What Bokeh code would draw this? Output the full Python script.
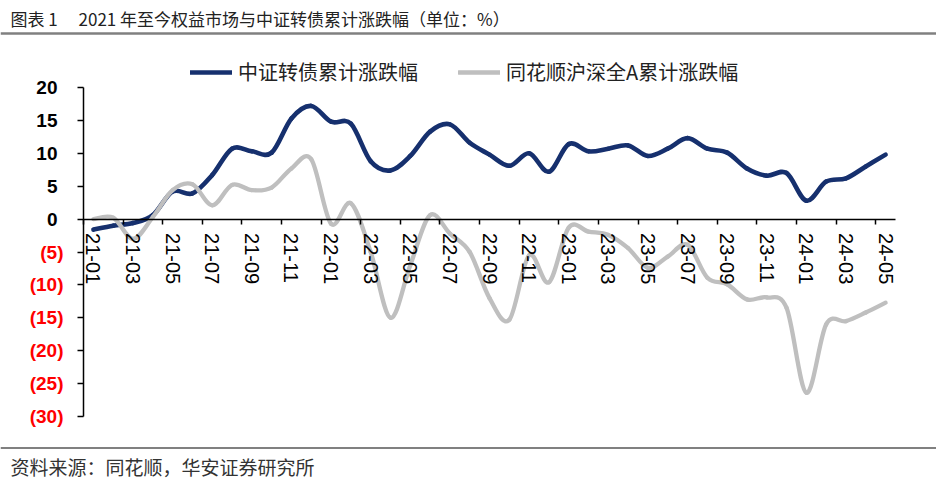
import math
from bokeh.plotting import figure
from bokeh.models import (Range1d, FixedTicker, LinearAxis, Legend, LegendItem, Span, Label,
                          ColumnDataSource, CustomJSTickFormatter)
from bokeh.embed import file_html
from bokeh.resources import INLINE

# ---------------- data ----------------
months = ["21-01", "21-02", "21-03", "21-04", "21-05", "21-06", "21-07", "21-08", "21-09", "21-10",
          "21-11", "21-12", "22-01", "22-02", "22-03", "22-04", "22-05", "22-06", "22-07", "22-08",
          "22-09", "22-10", "22-11", "22-12", "23-01", "23-02", "23-03", "23-04", "23-05", "23-06",
          "23-07", "23-08", "23-09", "23-10", "23-11", "23-12", "24-01", "24-02", "24-03", "24-04",
          "24-05"]
cb_cum = [-1.6, -1.0, -0.6, 0.6, 4.2, 3.9, 6.7, 10.7, 10.3, 10.1, 15.3, 17.2, 14.8, 14.5, 8.8,
          7.4, 9.6, 13.3, 14.4, 11.6, 9.8, 8.1, 10.0, 7.2, 11.4, 10.3, 10.7, 11.2, 9.6, 10.7,
          12.3, 10.7, 10.1, 7.7, 6.6, 7.0, 2.8, 5.7, 6.2, 8.0, 9.8]
a_cum = [0.0, 0.2, -3.0, 0.3, 4.4, 5.3, 2.1, 5.2, 4.4, 4.8, 7.7, 9.1, -0.7, 2.4, -5.0, -15.0,
         -7.0, 0.6, -2.2, -5.0, -12.0, -15.3, -5.5, -9.6, -1.3, -1.9, -2.4, -4.4, -7.4, -5.7,
         -3.9, -8.9, -9.9, -12.2, -11.9, -13.5, -26.4, -16.0, -15.5, -14.2, -12.7]
y_ticks = [-30, -25, -20, -15, -10, -5, 0, 5, 10, 15, 20]
series_names = ["中证转债累计涨跌幅", "同花顺沪深全A累计涨跌幅"]
title_text = "图表 1\u3000 2021 年至今权益市场与中证转债累计涨跌幅（单位：%）"
source_text = "资料来源：同花顺，华安证券研究所"

BLUE = "#16306E"
GRAY = "#BFBFBF"
CJK = "Noto Sans CJK SC"
LATIN = "Liberation Sans"

# ---------------- layout (pixels) ----------------
W, H = 936, 480
PL, PR, PT, PB = 83, 895, 87, 416          # plot-area edges in canvas pixels (from top-left)
X0, X1 = -0.5, len(months) - 0.5            # category span of the x axis
Y0, Y1 = y_ticks[0], y_ticks[-1]
sx = (PR - PL) / (X1 - X0)
sy = (PB - PT) / (Y1 - Y0)
x_range = Range1d(X0 - PL / sx, X1 + (W - PR) / sx)
y_range = Range1d(Y0 - (H - PB) / sy, Y1 + PT / sy)


def smooth_source(ys):
    """Bezier segments through the data points (Excel-style smoothed line)."""
    xs = list(range(len(ys)))
    n = len(ys)
    d = {k: [] for k in ("x0", "y0", "x1", "y1", "cx0", "cy0", "cx1", "cy1")}
    for i in range(n - 1):
        pm = max(i - 1, 0)
        pp = min(i + 2, n - 1)
        d["x0"].append(xs[i]); d["y0"].append(ys[i])
        d["x1"].append(xs[i + 1]); d["y1"].append(ys[i + 1])
        d["cx0"].append(xs[i] + (xs[i + 1] - xs[pm]) / 6.0)
        d["cy0"].append(ys[i] + (ys[i + 1] - ys[pm]) / 6.0)
        d["cx1"].append(xs[i + 1] - (xs[pp] - xs[i]) / 6.0)
        d["cy1"].append(ys[i + 1] - (ys[pp] - ys[i]) / 6.0)
    return ColumnDataSource(d)


p = figure(width=W, height=H, x_range=x_range, y_range=y_range,
           output_backend="svg", toolbar_location=None, min_border=0,
           x_axis_location=None, y_axis_location=None)
p.grid.visible = False
p.outline_line_color = None
p.background_fill_color = "white"

r_cb = p.bezier(x0="x0", y0="y0", x1="x1", y1="y1", cx0="cx0", cy0="cy0", cx1="cx1", cy1="cy1",
                source=smooth_source(cb_cum), line_color=BLUE, line_width=4.6, line_cap="round")
r_a = p.bezier(x0="x0", y0="y0", x1="x1", y1="y1", cx0="cx0", cy0="cy0", cx1="cx1", cy1="cy1",
               source=smooth_source(a_cum), line_color=GRAY, line_width=4.3, line_cap="round")

# x axis at y = 0: tick marks between the labelled months
xt = LinearAxis(fixed_location=0, bounds=(X0, X1),
                ticker=FixedTicker(ticks=[i - 0.5 for i in range(0, len(months) + 1, 2)]),
                formatter=CustomJSTickFormatter(code="return ''"),
                major_tick_out=5, major_tick_in=0, minor_tick_line_color=None,
                axis_line_color="#000000", axis_line_width=1.5,
                major_tick_line_color="#000000", major_tick_line_width=1.5)
p.add_layout(xt, "below")

label_idx = list(range(0, len(months), 2))
xl = LinearAxis(fixed_location=0, bounds=(X0, X1), ticker=FixedTicker(ticks=label_idx),
                major_label_overrides={i: months[i] for i in label_idx},
                major_tick_out=0, major_tick_in=0, minor_tick_line_color=None,
                axis_line_color=None, major_tick_line_color=None,
                major_label_orientation=-math.pi / 2, major_label_standoff=14,
                major_label_text_font=LATIN, major_label_text_font_size="20px",
                major_label_text_color="#000000")
p.add_layout(xl, "below")

# y axis: black non-negative labels, red bracketed negative labels
ya = LinearAxis(fixed_location=X0, bounds=(Y0, Y1), ticker=FixedTicker(ticks=y_ticks),
                major_label_overrides={t: (str(t) if t >= 0 else "") for t in y_ticks},
                major_tick_out=6, major_tick_in=0, minor_tick_line_color=None,
                axis_line_color="#000000", axis_line_width=1.5,
                major_tick_line_color="#000000", major_tick_line_width=1.5,
                major_label_standoff=20, major_label_text_font=LATIN,
                major_label_text_font_style="bold", major_label_text_font_size="19px",
                major_label_text_color="#000000")
p.add_layout(ya, "left")

neg_ticks = [t for t in y_ticks if t < 0]
yr = LinearAxis(fixed_location=X0, bounds=(Y0, Y1), ticker=FixedTicker(ticks=neg_ticks),
                major_label_overrides={t: "(%d)" % (-t) for t in neg_ticks},
                major_tick_out=0, major_tick_in=0, minor_tick_line_color=None,
                axis_line_color=None, major_tick_line_color=None,
                major_label_standoff=20, major_label_text_font=LATIN,
                major_label_text_font_style="bold", major_label_text_font_size="19px",
                major_label_text_color="#FF0000")
p.add_layout(yr, "left")

legend = Legend(items=[LegendItem(label=series_names[0], renderers=[r_cb]),
                       LegendItem(label=series_names[1], renderers=[r_a])],
                orientation="horizontal", location=(190, H - 72 - 14), margin=0, padding=0,
                spacing=40, glyph_width=42, glyph_height=20, label_standoff=6,
                label_text_font=CJK, label_text_font_size="20px", label_text_color="#222222",
                border_line_color=None, background_fill_alpha=0)
p.add_layout(legend, "center")

# header & footer
p.add_layout(Label(x=10, y=H - 18, x_units="screen", y_units="screen", text=title_text,
                   text_baseline="middle", text_font=CJK, text_font_size="17px",
                   text_color="#222222"))
p.add_layout(Span(location=H - 33, location_units="screen", dimension="width",
                  line_color="#808080", line_width=2.5))
p.add_layout(Span(location=H - 447.5, location_units="screen", dimension="width",
                  line_color="#808080", line_width=2))
p.add_layout(Label(x=10, y=H - 466, x_units="screen", y_units="screen", text=source_text,
                   text_baseline="middle", text_font=CJK, text_font_size="19px",
                   text_color="#333333"))

open("out.html", "w").write(file_html(p, INLINE))
